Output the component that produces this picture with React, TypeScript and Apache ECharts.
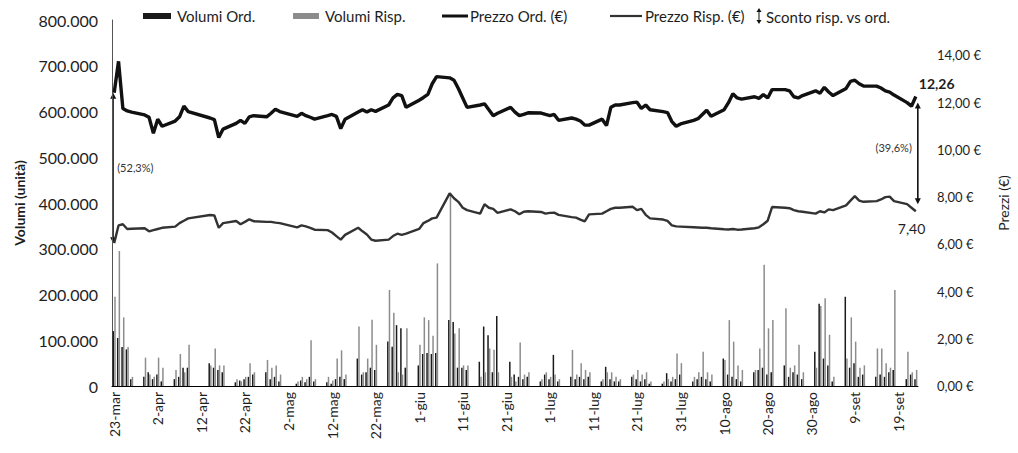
import React, { useEffect, useRef } from "react";
import * as echarts from "echarts";

// ---- DATA (trading days 2020, dd/mm) ----
const tradingDays = [
  "23/03", "24/03", "25/03", "26/03", "27/03",
  "30/03", "31/03", "01/04", "02/04", "03/04",
  "06/04", "07/04", "08/04", "09/04",
  "14/04", "15/04", "16/04", "17/04",
  "20/04", "21/04", "22/04", "23/04", "24/04",
  "27/04", "28/04", "29/04", "30/04",
  "04/05", "05/05", "06/05", "07/05", "08/05",
  "11/05", "12/05", "13/05", "14/05", "15/05",
  "18/05", "19/05", "20/05", "21/05", "22/05",
  "25/05", "26/05", "27/05", "28/05", "29/05",
  "01/06", "02/06", "03/06", "04/06", "05/06",
  "08/06", "09/06", "10/06", "11/06", "12/06",
  "15/06", "16/06", "17/06", "18/06", "19/06",
  "22/06", "23/06", "24/06", "25/06", "26/06",
  "29/06", "30/06", "01/07", "02/07", "03/07",
  "06/07", "07/07", "08/07", "09/07", "10/07",
  "13/07", "14/07", "15/07", "16/07", "17/07",
  "20/07", "21/07", "22/07", "23/07", "24/07",
  "27/07", "28/07", "29/07", "30/07", "31/07",
  "03/08", "04/08", "05/08", "06/08", "07/08",
  "10/08", "11/08", "12/08", "13/08", "14/08",
  "17/08", "18/08", "19/08", "20/08", "21/08",
  "24/08", "25/08", "26/08", "27/08", "28/08",
  "31/08", "01/09", "02/09", "03/09", "04/09",
  "07/09", "08/09", "09/09", "10/09", "11/09",
  "14/09", "15/09", "16/09", "17/09", "18/09",
  "21/09", "22/09", "23/09",
];

const prezzoOrd = [
  12.42, 13.75, 11.75, 11.65, 11.6,
  11.48, 11.38, 10.7, 11.3, 11.0,
  11.22, 11.4, 11.85, 11.62,
  11.35, 11.28, 10.52, 10.88,
  11.12, 11.25, 11.12, 11.4, 11.45,
  11.4, 11.55, 11.72, 11.62,
  11.42, 11.55, 11.45, 11.38, 11.3,
  11.45, 11.5, 11.42, 10.9, 11.3,
  11.6, 11.7, 11.6, 11.7, 11.63,
  11.9, 12.2, 12.35, 12.3, 11.8,
  12.1, 12.22, 12.35, 12.8, 13.1,
  13.05, 12.95, 12.6, 12.2, 11.8,
  11.9, 11.95, 11.7, 11.45, 11.55,
  11.8, 11.6, 11.45, 11.5, 11.57,
  11.56, 11.5, 11.45, 11.5, 11.25,
  11.35, 11.3, 11.22, 11.05, 11.05,
  11.3, 11.03, 11.8, 11.9, 11.9,
  12.0, 12.02, 11.75, 11.9, 11.7,
  11.62, 11.58, 11.2, 11.0, 11.1,
  11.25, 11.32, 11.5, 11.68, 11.42,
  11.7, 12.0, 12.38, 12.2, 12.15,
  12.25, 12.18, 12.34, 12.2, 12.55,
  12.55, 12.5, 12.25, 12.2, 12.3,
  12.5, 12.4, 12.65, 12.45, 12.3,
  12.6, 12.9, 12.95, 12.8, 12.7,
  12.7, 12.62, 12.5, 12.45, 12.32,
  12.0, 11.85, 12.26,
];

const prezzoRisp = [
  6.05, 6.8, 6.85, 6.65, 6.66,
  6.68, 6.55, 6.6, 6.65, 6.7,
  6.75, 6.9, 7.0, 7.1,
  7.24, 7.22, 6.7, 6.9,
  6.99, 6.85, 6.95, 7.06, 6.98,
  6.95, 6.95, 6.92, 6.9,
  6.72, 6.8, 6.76, 6.7, 6.62,
  6.6, 6.5, 6.35, 6.2, 6.4,
  6.7, 6.55, 6.42, 6.2, 6.15,
  6.2, 6.35, 6.45, 6.4, 6.45,
  6.65, 6.9, 6.99, 7.1, 7.13,
  8.16, 7.95, 7.8, 7.55, 7.45,
  7.3, 7.7, 7.55, 7.5, 7.33,
  7.48, 7.4, 7.27, 7.38, 7.4,
  7.37, 7.3, 7.33, 7.34, 7.25,
  7.15, 7.13, 7.05, 6.97, 7.27,
  7.3, 7.4, 7.5, 7.55, 7.55,
  7.59, 7.45, 7.5, 7.25, 7.1,
  7.05, 6.99, 6.8, 6.76, 6.75,
  6.72, 6.71, 6.7, 6.7, 6.68,
  6.64, 6.63, 6.65, 6.62, 6.63,
  6.68, 6.72, 6.85, 7.0, 7.58,
  7.55, 7.53, 7.45, 7.4, 7.38,
  7.3, 7.4, 7.35, 7.48, 7.45,
  7.65, 7.85, 8.04, 7.85, 7.8,
  7.83, 7.9, 8.0, 8.02, 7.83,
  7.7, 7.55, 7.4,
];

// volumes in thousands of units
const volumiOrd = [
  120, 105, 85, 80, 15,
  20, 30, 15, 25, 10,
  15, 20, 40, 40,
  50, 40, 35, 30,
  8, 12, 15, 20, 25,
  30, 15, 20, 10,
  5, 12, 8, 20, 10,
  8, 5, 15, 20, 15,
  60, 25, 30, 40, 35,
  97, 86, 133, 126, 40,
  45, 70, 72, 70, 72,
  144, 140, 40, 40, 35,
  53, 130, 111, 30, 153,
  53, 25, 20, 15, 20,
  10, 25, 15, 68, 10,
  20, 15, 20, 15, 20,
  10, 42, 15, 10, 10,
  20, 15, 10, 15, 5,
  5, 28, 10, 15, 25,
  10, 15, 20, 15, 10,
  60, 25, 20, 15, 10,
  30, 35, 40, 25, 30,
  45, 20, 30, 25, 15,
  75, 180, 60, 45, 10,
  195, 40, 50, 20, 25,
  20, 25, 20, 30, 35,
  15, 25, 15,
];

const volumiRisp = [
  195, 295, 150, 85, 20,
  62, 25, 20, 62, 40,
  35, 70, 30, 90,
  45, 82, 45, 45,
  15, 10, 20, 50, 30,
  57, 40, 45, 25,
  10, 20, 15, 100, 15,
  20, 12, 60, 78, 25,
  130, 30, 60, 145, 90,
  210, 160, 30, 25, 126,
  90, 150, 144, 110, 268,
  422, 115, 126, 45, 45,
  20, 30, 82, 79, 30,
  20, 10, 95, 25, 30,
  15, 30, 20, 25, 15,
  79, 25, 50, 35, 30,
  15, 30, 30, 20, 15,
  25, 35, 25, 30, 10,
  10, 15, 20, 71, 50,
  20, 30, 75, 30, 25,
  57, 144, 97, 45, 35,
  35, 82, 265, 126, 144,
  170, 40, 45, 90, 30,
  40, 175, 192, 112, 20,
  60, 150, 97, 40, 45,
  82, 82, 50, 40, 210,
  75, 30, 35,
];

const discountLabels = ["(52,3%)", "(39,6%)"];
const legendLabels = ["Volumi Ord.", "Volumi Risp.", "Prezzo Ord. (€)", "Prezzo Risp. (€)", "Sconto risp. vs ord."];
const monthNames = ["gen", "feb", "mar", "apr", "mag", "giu", "lug", "ago", "set", "ott", "nov", "dic"];
const startDate = [2020, 2, 23];
const endDate = [2020, 8, 23];

const FONT = "Lato, 'Open Sans', sans-serif";
const TXT = "#1e1e1e";

function pad(n: number) {
  return n < 10 ? "0" + n : "" + n;
}

function buildCalendar() {
  const labels: string[] = [];
  const keys: string[] = [];
  const d = new Date(startDate[0], startDate[1], startDate[2]);
  const end = new Date(endDate[0], endDate[1], endDate[2]);
  while (d <= end) {
    labels.push(d.getDate() + "-" + monthNames[d.getMonth()]);
    keys.push(pad(d.getDate()) + "/" + pad(d.getMonth() + 1));
    d.setDate(d.getDate() + 1);
  }
  return { labels, keys };
}

function spread(keys: string[], values: number[]) {
  const map: Record<string, number> = {};
  tradingDays.forEach((k, i) => (map[k] = values[i]));
  return keys.map((k) => (k in map ? map[k] : null));
}

const fmtEuro = (v: number) => v.toFixed(2).replace(".", ",");

export default function App() {
  const ref = useRef<HTMLDivElement>(null);

  useEffect(() => {
    if (!ref.current) return;
    const chart = echarts.init(ref.current, undefined, { renderer: "svg" });
    const { labels, keys } = buildCalendar();
    const firstIdx = keys.indexOf(tradingDays[0]);
    const lastIdx = keys.indexOf(tradingDays[tradingDays.length - 1]);

    const option: any = {
      animation: false,
      backgroundColor: "#ffffff",
      textStyle: { fontFamily: FONT },
      grid: { left: 112, right: 100, top: 20, bottom: 67, containLabel: false },
      xAxis: {
        type: "category",
        data: labels,
        boundaryGap: true,
        axisLine: { show: true, lineStyle: { color: "#000", width: 1 } },
        axisTick: { show: false },
        axisLabel: {
          interval: 9,
          rotate: 90,
          fontSize: 14,
          color: TXT,
          margin: 6,
          fontFamily: FONT,
        },
        splitLine: { show: false },
      },
      yAxis: [
        {
          type: "value",
          min: 0,
          max: 800,
          interval: 100,
          axisLine: { show: true, lineStyle: { color: "#555", width: 1 } },
          axisTick: { show: false },
          splitLine: { show: false },
          axisLabel: {
            fontSize: 16,
            color: TXT,
            margin: 14,
            fontFamily: FONT,
            formatter: (v: number) => (v === 0 ? "0" : v + ".000"),
          },
          name: "Volumi (unità)",
          nameLocation: "middle",
          nameGap: 86,
          nameRotate: 90,
          nameTextStyle: { fontSize: 14, fontWeight: "bold", color: TXT, fontFamily: FONT },
        },
        {
          type: "value",
          min: 0,
          max: 15.5,
          interval: 2,
          position: "right",
          axisLine: { show: false },
          axisTick: { show: false },
          splitLine: { show: false },
          axisLabel: {
            fontSize: 13,
            color: TXT,
            margin: 19,
            showMaxLabel: false,
            fontFamily: FONT,
            formatter: (v: number) => fmtEuro(v) + " €",
          },
          name: "Prezzi (€)",
          nameLocation: "middle",
          nameGap: 78,
          nameRotate: 90,
          nameTextStyle: { fontSize: 14, color: TXT, fontFamily: FONT },
        },
      ],
      series: [
        {
          name: legendLabels[0],
          type: "bar",
          yAxisIndex: 0,
          data: spread(keys, volumiOrd),
          barWidth: 1.5,
          barGap: "10%",
          itemStyle: { color: "#1a1a1a" },
          z: 2,
        },
        {
          name: legendLabels[1],
          type: "bar",
          yAxisIndex: 0,
          data: spread(keys, volumiRisp),
          barWidth: 1.5,
          barGap: "10%",
          itemStyle: { color: "#8c8c8c" },
          z: 2,
        },
        {
          name: legendLabels[2],
          type: "line",
          yAxisIndex: 1,
          data: spread(keys, prezzoOrd),
          connectNulls: true,
          showSymbol: false,
          symbol: "none",
          lineStyle: { color: "#111", width: 3.4 },
          z: 4,
        },
        {
          name: legendLabels[3],
          type: "line",
          yAxisIndex: 1,
          data: spread(keys, prezzoRisp),
          connectNulls: true,
          showSymbol: false,
          symbol: "none",
          lineStyle: { color: "#333", width: 2.4 },
          z: 4,
        },
      ],
    };
    chart.setOption(option);

    const pOs = chart.convertToPixel({ seriesIndex: 2 }, [firstIdx, prezzoOrd[0]]) as number[];
    const pRs = chart.convertToPixel({ seriesIndex: 3 }, [firstIdx, prezzoRisp[0]]) as number[];
    const pOe = chart.convertToPixel({ seriesIndex: 2 }, [lastIdx, prezzoOrd[prezzoOrd.length - 1]]) as number[];
    const pRe = chart.convertToPixel({ seriesIndex: 3 }, [lastIdx, prezzoRisp[prezzoRisp.length - 1]]) as number[];

    const arrow = (x: number, y1: number, y2: number, w: number, hw: number, hh: number) => [
      { type: "line", shape: { x1: x, y1: y1 + hh - 1, x2: x, y2: y2 - hh + 1 }, style: { stroke: "#111", lineWidth: w } },
      { type: "polygon", shape: { points: [[x, y1], [x - hw, y1 + hh], [x + hw, y1 + hh]] }, style: { fill: "#111" } },
      { type: "polygon", shape: { points: [[x, y2], [x - hw, y2 - hh], [x + hw, y2 - hh]] }, style: { fill: "#111" } },
    ];

    const lx = pOs[0] - 1;
    const rx = pOe[0] + 2;
    const legendY = 16;
    const legendFont = { fontSize: 15, fontFamily: FONT, fill: TXT };

    const graphic: any[] = [
      ...arrow(lx, pOs[1], pRs[1], 1.3, 3, 6),
      {
        type: "text",
        x: lx + 4,
        y: (pOs[1] + pRs[1]) / 2,
        style: { text: discountLabels[0], fontSize: 11, fill: "#333", fontFamily: FONT, verticalAlign: "middle" },
      },
      ...arrow(rx, pOe[1] + 6, pRe[1] - 7, 1.6, 3, 6),
      {
        type: "text",
        x: rx - 6,
        y: (pOe[1] + pRe[1]) / 2 - 6,
        style: { text: discountLabels[1], fontSize: 11, fill: "#333", fontFamily: FONT, align: "right", verticalAlign: "middle" },
      },
      {
        type: "text",
        x: pOe[0] + 3,
        y: pOe[1] - 13,
        style: { text: fmtEuro(prezzoOrd[prezzoOrd.length - 1]), fontSize: 14, fontWeight: "bold", fill: TXT, fontFamily: FONT, verticalAlign: "middle" },
      },
      {
        type: "text",
        x: pRe[0] - 18,
        y: pRe[1] + 17,
        style: { text: fmtEuro(prezzoRisp[prezzoRisp.length - 1]), fontSize: 14, fill: TXT, fontFamily: FONT, verticalAlign: "middle" },
      },
      // legend
      { type: "rect", shape: { x: 143, y: legendY - 3, width: 28, height: 6 }, style: { fill: "#1a1a1a" } },
      { type: "text", x: 177, y: legendY, style: { ...legendFont, text: legendLabels[0], verticalAlign: "middle" } },
      { type: "rect", shape: { x: 293, y: legendY - 3, width: 26, height: 6 }, style: { fill: "#8c8c8c" } },
      { type: "text", x: 325, y: legendY, style: { ...legendFont, text: legendLabels[1], verticalAlign: "middle" } },
      { type: "line", shape: { x1: 442, y1: legendY, x2: 468, y2: legendY }, style: { stroke: "#111", lineWidth: 3 } },
      { type: "text", x: 470, y: legendY, style: { ...legendFont, text: legendLabels[2], verticalAlign: "middle" } },
      { type: "line", shape: { x1: 610, y1: legendY, x2: 642, y2: legendY }, style: { stroke: "#333", lineWidth: 2.2 } },
      { type: "text", x: 645, y: legendY, style: { ...legendFont, text: legendLabels[3], verticalAlign: "middle" } },
      ...arrow(759, legendY - 8, legendY + 8, 1, 2.5, 4),
      { type: "text", x: 766, y: legendY + 1, style: { ...legendFont, text: legendLabels[4], verticalAlign: "middle" } },
    ];
    chart.setOption({ graphic });

    return () => chart.dispose();
  }, []);

  return (
    <div
      ref={ref}
      style={{ position: "fixed", left: 0, top: 0, width: 1018, height: 453, background: "#fff" }}
    />
  );
}
